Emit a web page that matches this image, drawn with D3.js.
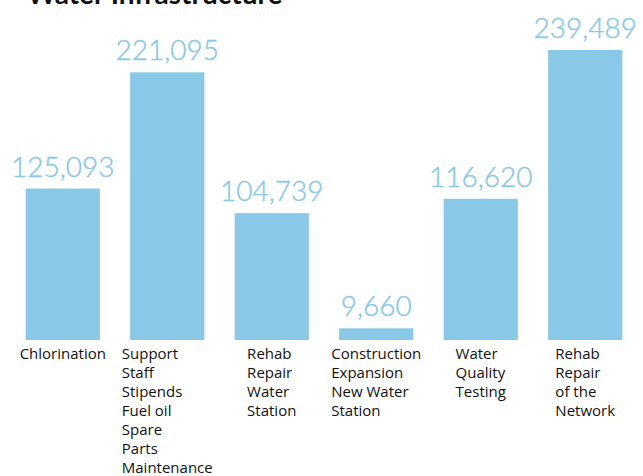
<!DOCTYPE html>
<html>
<head>
<meta charset="utf-8">
<script src="https://cdn.jsdelivr.net/npm/d3@7"></script>
<style>
  body { margin: 0; background: #fff; }
  svg { display: block; }
</style>
</head>
<body>
<div class="canvas"></div>
<script>
const categories = [
    ["Chlorination"],
    ["Support", "Staff", "Stipends", "Fuel oil", "Spare", "Parts", "Maintenance"],
    ["Rehab", "Repair", "Water", "Station"],
    ["Construction", "Expansion", "New Water", "Station"],
    ["Water", "Quality", "Testing"],
    ["Rehab", "Repair", "of the", "Network"]
];
const values = [125093, 221095, 104739, 9660, 116620, 239489];
const title = "Water Infrastructure";

const dims = { width: 643, height: 476 };
const margin = { base: 340, top: 50 };
const barColor = "#89c8e6";

const svg = d3
    .select(".canvas")
    .append("svg")
    .attr("width", dims.width)
    .attr("height", dims.height);

const ids = values.map((d, i) => i);

const x = d3
    .scaleBand()
    .domain(ids)
    .range([10, 638])
    .paddingInner(0.29)
    .paddingOuter(0.15);

const y = d3
    .scaleLinear()
    .domain([0, d3.max(values)])
    .range([margin.base, margin.top]);

// title sits mostly above the top edge, like the source
svg.append("text")
    .attr("x", 27)
    .attr("y", 4)
    .attr("font-family", "Lato, sans-serif")
    .attr("font-weight", 700)
    .attr("font-size", 28)
    .attr("fill", "#111")
    .text(title);

svg.selectAll("rect.bar")
    .data(values)
    .enter()
    .append("rect")
    .attr("class", "bar")
    .attr("x", (d, i) => x(i))
    .attr("width", x.bandwidth())
    .attr("y", (d) => y(d))
    .attr("height", (d) => y(0) - y(d))
    .attr("fill", barColor);

svg.selectAll("text.value")
    .data(values)
    .enter()
    .append("text")
    .attr("class", "value")
    .attr("x", (d, i) => x(i) + x.bandwidth() / 2)
    .attr("y", (d) => y(d) - 12)
    .attr("text-anchor", "middle")
    .attr("font-family", "Lato, sans-serif")
    .attr("font-weight", 300)
    .attr("font-size", 28)
    .attr("fill", barColor)
    .attr("stroke", barColor)
    .attr("stroke-width", 0.4)
    .text((d) => d3.format(",")(d));

const labels = svg.selectAll("g.label")
    .data(categories)
    .enter()
    .append("g")
    .attr("class", "label");

labels.each(function (lines, i) {
    const g = d3.select(this);
    const t = g.append("text")
        .attr("font-family", "'Open Sans', sans-serif")
        .attr("font-size", 15)
        .attr("fill", "#111");
    t.selectAll("tspan")
        .data(lines)
        .enter()
        .append("tspan")
        .attr("x", 0)
        .attr("y", (d, j) => 359 + j * 19)
        .text((d) => d);
    const w = d3.max(t.selectAll("tspan").nodes(), (n) => n.getComputedTextLength());
    g.attr("transform", `translate(${x(i) + x.bandwidth() / 2 - w / 2},0)`);
});
</script>
</body>
</html>
